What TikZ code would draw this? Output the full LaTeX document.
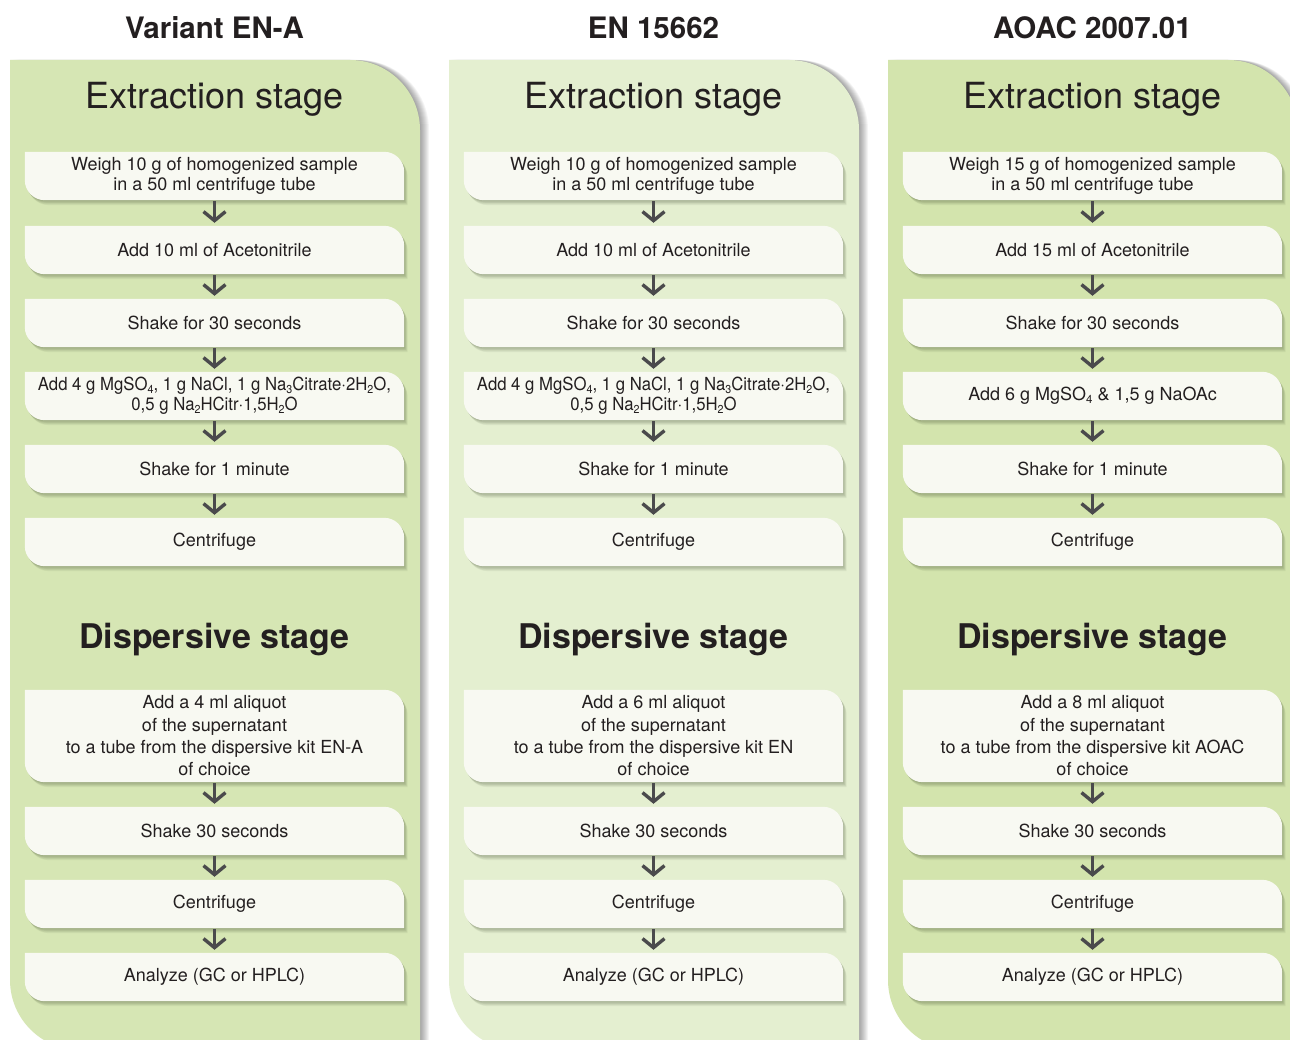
\documentclass[tikz,border=0pt]{standalone}
\usepackage{fontspec}
\setmainfont{TeX Gyre Heros}
\usetikzlibrary{arrows.meta}

\definecolor{panelA}{HTML}{D6E6B4}
\definecolor{panelB}{HTML}{E4EFD0}
\definecolor{panelC}{HTML}{D3E4AD}
\definecolor{stepfill}{HTML}{F8F9F2}
\definecolor{ink}{HTML}{231F20}
\definecolor{arrowgrey}{HTML}{4A4A4C}
\definecolor{shadowtone}{HTML}{2E3A1E}

\pgfdeclarelayer{panels}
\pgfdeclarelayer{boxes}
\pgfsetlayers{panels,boxes,main}

% small lowered digits for chemical formulas
\newcommand\sbs[1]{\raisebox{-0.25ex}{\fontsize{11.5}{11.5}\selectfont #1}}

\tikzset{
  stepbox/.style={minimum width=379pt, minimum height=48pt, inner sep=0pt,
    align=center, font=\fontsize{18}{20}\selectfont, text=ink},
  tallbox/.style={stepbox, minimum height=92pt, font=\fontsize{18}{22.3}\selectfont},
  flow/.style={draw=arrowgrey, line width=3.4pt,
    -{Straight Barb[length=9pt,width=22pt]}, shorten <=1pt, shorten >=3pt},
  stepshadow/.style={fill=shadowtone, opacity=0.05},
  panelshadow/.style={fill=black, opacity=0.045},
  colhead/.style={anchor=base, font=\bfseries\fontsize{29.5}{30}\selectfont, text=ink},
  stagehead/.style={anchor=base, font=\fontsize{36}{38}\selectfont, text=ink},
  stagebold/.style={anchor=base, font=\bfseries\fontsize{34}{36}\selectfont, text=ink},
}

% outline of a step card around node #1, moved by (#2,#3):
% square top-left and bottom-right, rounded top-right and bottom-left
\newcommand\stepoutline[3]{%
  ([xshift=#2,yshift=#3]#1.north west) -- ([xshift=#2-20pt,yshift=#3]#1.north east)
    arc[start angle=-90, end angle=0, radius=20] -- ([xshift=#2,yshift=#3]#1.south east)
    -- ([xshift=#2+20pt,yshift=#3]#1.south west)
    arc[start angle=90, end angle=180, radius=20] -- cycle}

% card with a soft shadow to the lower right
\newcommand\drawstep[1]{%
  \foreach \s in {1,...,7}{\fill[stepshadow] \stepoutline{#1}{0.5*\s pt}{-0.7*\s pt};}
  \fill[stepfill] \stepoutline{#1}{0pt}{0pt};}

% column background: left x, right x
\newcommand\panelpath[2]{%
  (#1,60) -- (#2-70,60) arc[start angle=-90, end angle=0, radius=70]
  -- (#2,1080) -- (#1+70,1080) -- (#1+70,1050)
  arc[start angle=90, end angle=180, radius=70] -- cycle}

\newcommand\drawpanel[3]{%
  \foreach \s in {1,...,9}{\fill[panelshadow, xshift=\s pt] \panelpath{#1}{#2};}
  \fill[#3] \panelpath{#1}{#2};}

% the steps shared by all three columns; #1 sample mass, #2 solvent volume,
% #3 salts, #4 aliquot text
\newcommand\column[4]{%
  \node[stagehead] (ext) at (214.5,109) {Extraction stage};
  \node[stepbox] (e1) at (214.5,176) {#1};
  \node[stepbox] (e2) at (214.5,250) {#2};
  \node[stepbox] (e3) at (214.5,323) {Shake for 30 seconds};
  \node[stepbox] (e4) at (214.5,396) {#3};
  \node[stepbox] (e5) at (214.5,469) {Shake for 1 minute};
  \node[stepbox] (e6) at (214.5,542) {Centrifuge};
  \node[stagebold] (dis) at (214.5,648) {Dispersive stage};
  \node[tallbox] (d1) at (214.5,736) {#4};
  \node[stepbox] (d2) at (214.5,831) {Shake 30 seconds};
  \node[stepbox] (d3) at (214.5,904) {Centrifuge};
  \node[stepbox] (d4) at (214.5,977) {Analyze (GC or HPLC)};
  \begin{pgfonlayer}{boxes}
    \foreach \n in {e1,e2,e3,e4,e5,e6,d1,d2,d3,d4} {\drawstep{\n}}
  \end{pgfonlayer}
  \draw[flow] (e1) -- (e2);
  \draw[flow] (e2) -- (e3);
  \draw[flow] (e3) -- (e4);
  \draw[flow] (e4) -- (e5);
  \draw[flow] (e5) -- (e6);
  \draw[flow] (d1) -- (d2);
  \draw[flow] (d2) -- (d3);
  \draw[flow] (d3) -- (d4);
}

\newcommand\saltsEN{\scalebox{0.93}[1]{Add 4 g MgSO\sbs{4}, 1 g NaCl, 1 g Na\sbs{3}Citrate·2H\sbs{2}O,}\\
  \scalebox{0.93}[1]{0,5 g Na\sbs{2}HCitr·1,5H\sbs{2}O}}

\begin{document}
\begin{tikzpicture}[x=1pt, y=-1pt]
  \useasboundingbox (0,0) rectangle (1290,1040);

  \begin{pgfonlayer}{panels}
    \fill[white] (0,0) rectangle (1290,1040);
    \drawpanel{10}{420}{panelA}
    \drawpanel{449}{859}{panelB}
    \drawpanel{888}{1298}{panelC}
  \end{pgfonlayer}

  \begin{scope}[name prefix=a-]
    \node[colhead] (head) at (214.5,38.5) {Variant EN-A};
    \column{Weigh 10 g of homogenized sample\\in a 50 ml centrifuge tube}
           {Add 10 ml of Acetonitrile}
           {\saltsEN}
           {Add a 4 ml aliquot\\of the supernatant\\to a tube from the dispersive kit EN-A\\of choice}
  \end{scope}

  \begin{scope}[xshift=439pt, name prefix=b-]
    \node[colhead] (head) at (214.5,38.5) {EN 15662};
    \column{Weigh 10 g of homogenized sample\\in a 50 ml centrifuge tube}
           {Add 10 ml of Acetonitrile}
           {\saltsEN}
           {Add a 6 ml aliquot\\of the supernatant\\to a tube from the dispersive kit EN\\of choice}
  \end{scope}

  \begin{scope}[xshift=878pt, name prefix=c-]
    \node[colhead] (head) at (214.5,38.5) {AOAC 2007.01};
    \column{Weigh 15 g of homogenized sample\\in a 50 ml centrifuge tube}
           {Add 15 ml of Acetonitrile}
           {Add 6 g MgSO\sbs{4} \& 1,5 g NaOAc}
           {Add a 8 ml aliquot\\of the supernatant\\to a tube from the dispersive kit AOAC\\of choice}
  \end{scope}
\end{tikzpicture}
\end{document}
